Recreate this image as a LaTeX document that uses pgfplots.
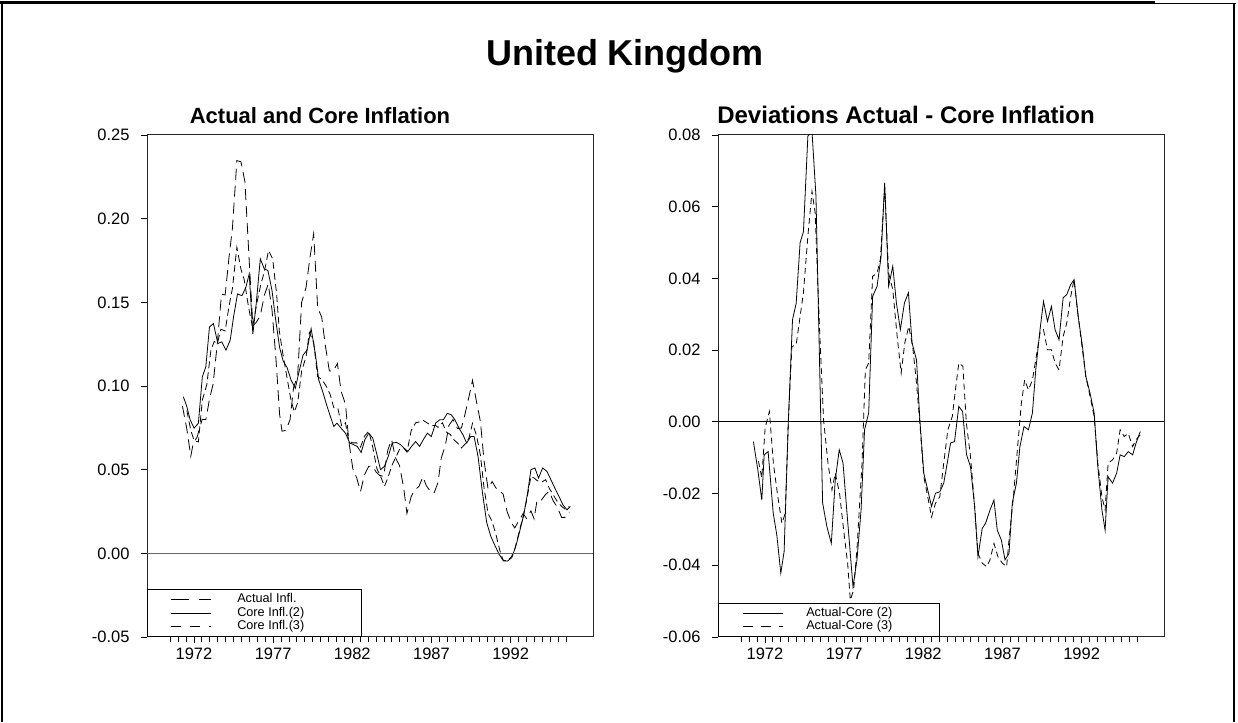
\documentclass[border=0pt]{standalone}
\usepackage{fontspec}
\setmainfont{Liberation Sans}
\usepackage{pgfplots}
\pgfplotsset{compat=1.18}

\pgfplotstableread{
x y
1971.33 .0936
1971.55 .0877
1971.76 .0798
1972.01 .0748
1972.28 .0778
1972.53 .1055
1972.75 .1115
1972.98 .1353
1973.23 .1373
1973.51 .1254
1973.76 .1264
1974.02 .1214
1974.29 .1274
1974.50 .1413
1974.75 .1550
1975.03 .1540
1975.28 .1590
1975.49 .1670
1975.72 .1310
1975.93 .1490
1976.19 .1760
1976.44 .1700
1976.67 .1690
1976.93 .1570
1977.14 .1410
1977.41 .1230
1977.63 .1150
1977.88 .1110
1978.13 .1036
1978.40 .0986
1978.61 .1075
1978.89 .1185
1979.14 .1214
1979.40 .1343
1979.67 .1190
1979.88 .1036
1980.13 .0966
1980.41 .0877
1980.62 .0817
1980.83 .0758
1981.03 .0778
1981.29 .0748
1981.57 .0718
1981.84 .0659
1982.09 .0649
1982.31 .0639
1982.56 .0603
1982.79 .0679
1983.04 .0718
1983.29 .0689
1983.53 .0599
1983.78 .0500
1984.03 .0520
1984.27 .0579
1984.52 .0659
1984.79 .0663
1985.05 .0649
1985.26 .0629
1985.51 .0609
1985.74 .0639
1986.00 .0668
1986.25 .0639
1986.48 .0679
1986.74 .0718
1986.99 .0698
1987.26 .0778
1987.52 .0798
1987.75 .0798
1988.00 .0837
1988.26 .0827
1988.48 .0798
1988.74 .0748
1988.99 .0708
1989.22 .0659
1989.48 .0698
1989.69 .0698
1989.94 .0579
1990.22 .0361
1990.49 .0183
1990.74 .0103
1991.02 .0044
1991.27 -.0006
1991.55 -.0046
1991.80 -.0046
1992.07 -.0026
1992.33 .0044
1992.60 .0143
1992.81 .0222
1993.07 .0361
1993.28 .0500
1993.53 .0510
1993.76 .0450
1994.02 .0510
1994.29 .0490
1994.54 .0440
1994.79 .0390
1995.05 .0340
1995.30 .0290
1995.55 .0260
1995.77 .0280
}\coretwo

\pgfplotstableread{
x y
1971.27 .0881
1971.55 .0743
1971.80 .0580
1971.95 .0656
1972.20 .0695
1972.52 .0801
1972.75 .0799
1973.00 .0931
1973.21 .1011
1973.48 .1260
1973.74 .1549
1973.97 .1544
1974.22 .1774
1974.43 .1943
1974.71 .2347
1974.97 .2340
1975.22 .2220
1975.50 .1730
1975.72 .1360
1975.93 .1380
1976.19 .1420
1976.44 .1540
1976.69 .1610
1976.93 .1455
1977.18 .1160
1977.41 .0830
1977.56 .0730
1977.81 .0735
1978.07 .0800
1978.29 .0990
1978.55 .1065
1978.80 .1500
1979.08 .1590
1979.33 .1770
1979.56 .1910
1979.81 .1470
1980.07 .1410
1980.30 .1240
1980.55 .1090
1980.81 .1090
1981.06 .1135
1981.29 .0970
1981.57 .0890
1981.78 .0670
1982.03 .0507
1982.28 .0450
1982.52 .0370
1982.77 .0470
1983.04 .0520
1983.29 .0520
1983.51 .0485
1983.72 .0466
1983.97 .0460
1984.24 .0616
1984.48 .0680
1984.73 .0570
1984.98 .0525
1985.24 .0394
1985.45 .0238
1985.72 .0340
1985.93 .0377
1986.21 .0400
1986.46 .0457
1986.67 .0405
1986.93 .0370
1987.16 .0360
1987.41 .0423
1987.62 .0570
1987.88 .0647
1988.10 .0764
1988.36 .0800
1988.64 .0746
1988.89 .0749
1989.10 .0825
1989.37 .0937
1989.59 .1034
1989.84 .0907
1990.09 .0787
1990.32 .0553
1990.57 .0386
1990.83 .0429
1991.06 .0392
1991.31 .0371
1991.52 .0355
1991.78 .0248
1992.05 .0182
1992.26 .0152
1992.53 .0197
1992.79 .0238
1993.00 .0208
1993.28 .0254
1993.48 .0206
1993.67 .0320
1993.95 .0319
1994.21 .0353
1994.43 .0370
1994.69 .0313
1994.94 .0277
1995.22 .0214
1995.43 .0215
1995.70 .0247
}\actual

\pgfplotstableread{
x y
1971.55 .0853
1971.80 .0736
1972.01 .0673
1972.28 .0666
1972.53 .0916
1972.81 .1007
1973.07 .1214
1973.28 .1266
1973.48 .1254
1973.70 .1339
1973.97 .1329
1974.22 .1480
1974.43 .1583
1974.71 .1829
1974.97 .1697
1975.17 .1637
1975.45 .1470
1975.70 .1350
1975.98 .1500
1976.23 .1610
1976.44 .1680
1976.71 .1810
1976.97 .1760
1977.22 .1550
1977.39 .1330
1977.60 .1200
1977.82 .1080
1978.13 .0915
1978.34 .0845
1978.55 .0900
1978.80 .1090
1979.08 .1175
1979.29 .1320
1979.56 .1260
1979.81 .1055
1980.07 .1040
1980.35 .1000
1980.60 .0950
1980.83 .0870
1981.08 .0870
1981.33 .0760
1981.57 .0780
1981.78 .0670
1982.03 .0660
1982.28 .0660
1982.52 .0635
1982.77 .0700
1983.04 .0730
1983.29 .0635
1983.55 .0507
1983.83 .0450
1984.03 .0400
1984.24 .0450
1984.50 .0525
1984.72 .0570
1984.98 .0620
1985.24 .0630
1985.45 .0605
1985.72 .0734
1986.00 .0780
1986.21 .0785
1986.46 .0796
1986.71 .0780
1986.99 .0764
1987.26 .0764
1987.41 .0753
1987.69 .0780
1987.94 .0725
1988.19 .0710
1988.40 .0680
1988.64 .0660
1988.89 .0630
1989.10 .0650
1989.37 .0690
1989.59 .0777
1989.84 .0706
1990.09 .0586
1990.32 .0390
1990.57 .0240
1990.83 .0190
1991.06 .0116
1991.31 .0020
1991.52 -.0040
1991.78 -.0046
1992.05 -.0020
1992.26 .0025
1992.53 .0126
1992.79 .0223
1993.02 .0323
1993.28 .0460
1993.48 .0450
1993.67 .0435
1993.95 .0425
1994.21 .0440
1994.43 .0390
1994.69 .0350
1994.94 .0310
1995.22 .0280
1995.43 .0265
1995.70 .0280
}\corethree

\pgfplotstableread{
x y
1971.27 -.0055
1971.55 -.0134
1971.80 -.0218
1971.95 -.0092
1972.20 -.0083
1972.52 -.0254
1972.75 -.0316
1973.00 -.0422
1973.21 -.0362
1973.48 .0006
1973.74 .0285
1973.97 .0330
1974.22 .0500
1974.43 .0530
1974.71 .0797
1974.97 .0810
1975.22 .0630
1975.64 -.0226
1975.91 -.0292
1976.19 -.0339
1976.44 -.0162
1976.69 -.0078
1976.93 -.0115
1977.18 -.0254
1977.56 -.0460
1977.81 -.0385
1978.07 -.0246
1978.29 -.0022
1978.55 .0025
1978.80 .0350
1979.08 .0378
1979.33 .0460
1979.56 .0667
1979.81 .0378
1980.07 .0434
1980.30 .0332
1980.55 .0257
1980.81 .0332
1981.06 .0360
1981.29 .0220
1981.57 .0173
1981.78 .0006
1982.03 -.0143
1982.28 -.0190
1982.52 -.0236
1982.77 -.0199
1983.04 -.0195
1983.29 -.0171
1983.51 -.0115
1983.72 -.0059
1983.97 -.0055
1984.24 .0043
1984.48 .0029
1984.73 -.0092
1984.98 -.0125
1985.24 -.0236
1985.45 -.0376
1985.72 -.0297
1985.93 -.0283
1986.21 -.0246
1986.46 -.0218
1986.67 -.0302
1986.93 -.0330
1987.16 -.0385
1987.41 -.0367
1987.62 -.0226
1987.88 -.0171
1988.10 -.0069
1988.36 -.0013
1988.64 -.0022
1988.89 .0025
1989.10 .0145
1989.37 .0257
1989.59 .0336
1989.84 .0280
1990.09 .0322
1990.32 .0257
1990.57 .0229
1990.83 .0346
1991.06 .0355
1991.31 .0383
1991.52 .0397
1991.78 .0294
1992.05 .0210
1992.26 .0127
1992.53 .0080
1992.79 .0024
1993.00 -.0115
1993.28 -.0246
1993.48 -.0302
1993.67 -.0153
1993.95 -.0171
1994.21 -.0143
1994.43 -.0092
1994.69 -.0097
1994.94 -.0083
1995.22 -.0092
1995.43 -.0060
1995.70 -.0027
}\devtwo

\pgfplotstableread{
x y
1971.59 -.0110
1971.80 -.0156
1972.01 -.0017
1972.28 .0029
1972.53 -.0115
1972.81 -.0208
1973.07 -.0283
1973.28 -.0255
1973.48 .0006
1973.70 .0210
1973.97 .0215
1974.22 .0294
1974.43 .0360
1974.71 .0518
1974.97 .0643
1975.17 .0583
1975.45 .0257
1975.70 .0006
1975.98 -.0115
1976.23 -.0190
1976.44 -.0143
1976.71 -.0199
1976.97 -.0302
1977.22 -.0394
1977.39 -.0497
1977.60 -.0469
1977.82 -.0348
1978.13 -.0115
1978.34 .0145
1978.55 .0164
1978.80 .0406
1979.08 .0415
1979.29 .0453
1979.56 .0653
1979.81 .0415
1980.07 .0369
1980.35 .0238
1980.60 .0136
1980.83 .0220
1981.08 .0266
1981.33 .0210
1981.57 .0108
1981.78 -.0004
1982.03 -.0153
1982.28 -.0209
1982.52 -.0265
1982.77 -.0227
1983.04 -.0209
1983.29 -.0115
1983.55 -.0022
1983.83 .0015
1984.03 .0090
1984.24 .0164
1984.50 .0155
1984.72 -.0004
1984.98 -.0097
1985.24 -.0236
1985.45 -.0367
1985.72 -.0394
1986.00 -.0404
1986.21 -.0385
1986.46 -.0339
1986.71 -.0376
1986.99 -.0394
1987.26 -.0404
1987.41 -.0330
1987.69 -.0209
1987.94 -.0078
1988.19 .0052
1988.40 .0117
1988.64 .0089
1988.89 .0117
1989.10 .0173
1989.37 .0248
1989.59 .0257
1989.84 .0201
1990.09 .0201
1990.32 .0164
1990.57 .0145
1990.83 .0238
1991.06 .0276
1991.31 .0350
1991.52 .0397
1991.78 .0294
1992.05 .0201
1992.26 .0127
1992.53 .0071
1992.79 .0015
1993.02 -.0115
1993.28 -.0209
1993.48 -.0246
1993.67 -.0115
1993.95 -.0106
1994.21 -.0087
1994.43 -.0022
1994.69 -.0041
1994.94 -.0032
1995.22 -.0069
1995.43 -.0050
1995.70 -.0036
}\devthree

\pgfplotsset{
  panel/.style={
    scale only axis, width=446pt, height=502pt, anchor=south west,
    xmin=1969.035, xmax=1997.2,
    scaled x ticks=false, scaled y ticks=false,
    xtick={1972,1977,1982,1987,1992},
    xticklabels={1972,1977,1982,1987,1992},
    minor xtick={1970.5,1971,...,1995.5},
    tick align=outside, xtick pos=bottom, ytick pos=left,
    major tick length=6pt, minor tick length=5pt,
    tick style={black, line width=0.8pt},
    axis line style={black!85, line width=1pt},
    every tick label/.append style={font=\fontsize{16.5}{18}\selectfont},
    xticklabel style={yshift=-1pt},
    yticklabel style={xshift=-8pt},
    legend cell align=left,
    legend image code/.code={\draw[#1] (0pt,0pt) -- (40pt,0pt);},
    legend style={at={(0,0)}, anchor=south west, draw=black, line width=0.9pt,
      font=\fontsize{12.7}{14}\selectfont, inner ysep=3pt,
      nodes={inner sep=1pt, text height=9pt, text depth=2.7pt},
      row sep=0pt},
  },
}

\begin{document}
\begin{tikzpicture}
\useasboundingbox (0pt,0pt) rectangle (1238pt,722pt);
\draw[line width=3pt] (0pt,719.5pt) -- (1155pt,719.5pt);
\draw[line width=1pt] (1155pt,718.5pt) -- (1236pt,718.5pt);
\draw[line width=1.2pt] (2pt,0pt) -- (2pt,719pt);
\draw[line width=2.7pt] (1234pt,0pt) -- (1234pt,719pt);

\node[font=\fontsize{36}{39}\selectfont\bfseries, anchor=base] at (625pt,656pt) {United Kingdom};
\node[font=\fontsize{22}{25}\selectfont\bfseries, anchor=base] at (320pt,598pt) {Actual and Core Inflation};
\node[font=\fontsize{24}{27}\selectfont\bfseries, anchor=base] at (906pt,598pt) {Deviations Actual - Core Inflation};

\begin{axis}[panel, at={(147pt,85pt)},
  ymin=-0.05, ymax=0.25,
  ytick={-0.05,0,0.05,0.1,0.15,0.2,0.25},
  yticklabels={-0.05,0.00,0.05,0.10,0.15,0.20,0.25},
  legend style={inner xsep=23pt, /tikz/every odd column/.append style={column sep=25pt}},
]
\addplot[black, line width=0.8pt, dash pattern=on 11pt off 6pt,
  legend image post style={dash pattern=on 18pt off 10pt}] table {\actual};
\addlegendentry{\makebox[100pt][l]{Actual Infl.}}
\addplot[black, line width=0.8pt] table {\coretwo};
\addlegendentry{\makebox[100pt][l]{Core Infl.(2)}}
\addplot[black, line width=0.8pt, dash pattern=on 7pt off 4pt,
  legend image post style={dash pattern=on 10pt off 9pt}] table {\corethree};
\addlegendentry{\makebox[100pt][l]{Core Infl.(3)}}
\addplot[black!60, line width=0.8pt, forget plot] coordinates {(1969.035,0) (1997.2,0)};
\end{axis}

\begin{axis}[panel, at={(718pt,85pt)},
  ymin=-0.06, ymax=0.08,
  ytick={-0.06,-0.04,-0.02,0,0.02,0.04,0.06,0.08},
  yticklabels={-0.06,-0.04,-0.02,0.00,0.02,0.04,0.06,0.08},
  legend style={inner xsep=24pt, /tikz/every odd column/.append style={column sep=22pt}},
]
\addplot[black, line width=0.8pt] table {\devtwo};
\addlegendentry{\makebox[108pt][l]{Actual-Core (2)}}
\addplot[black, line width=0.8pt, dash pattern=on 6pt off 4pt,
  legend image post style={dash pattern=on 10pt off 8pt}] table {\devthree};
\addlegendentry{\makebox[108pt][l]{Actual-Core (3)}}
\addplot[black, line width=0.8pt, forget plot] coordinates {(1969.035,0) (1997.2,0)};
\end{axis}
\end{tikzpicture}
\end{document}
